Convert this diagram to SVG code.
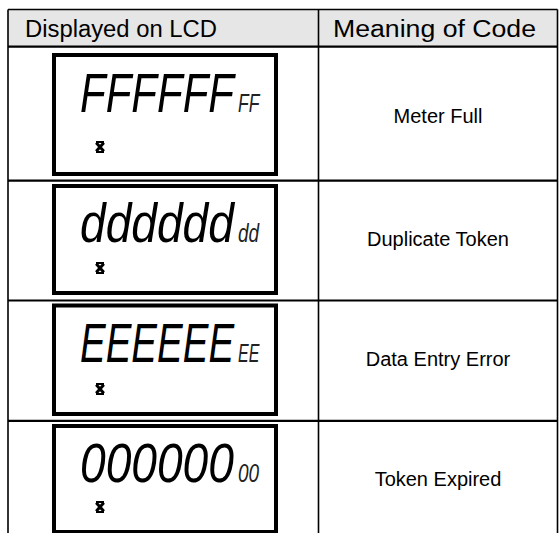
<svg xmlns="http://www.w3.org/2000/svg" width="559" height="533" viewBox="0 0 559 533">
<style>
.hdr{font-family:"Liberation Sans",Arial,sans-serif;font-size:23px;fill:#000}
.txt{font-family:"Liberation Sans",Arial,sans-serif;font-size:20px;fill:#000;text-anchor:middle}
.lcd{fill:none;stroke:#000;stroke-width:4}
.big{font-family:"Liberation Sans",Arial,sans-serif;font-style:italic;font-size:55px;fill:#000}
.sml{font-family:"Liberation Sans",Arial,sans-serif;font-style:italic;font-size:25px;fill:#222}
.grid{stroke:#000;fill:none}
</style>
<defs>
<g id="icon">
<path d="M-3.8,-4.2 L3.8,4.2 M3.8,-4.2 L-3.8,4.2" stroke="#000" stroke-width="3" fill="none"/>
<path d="M-4,-5 H4 M-4,5 H4" stroke="#000" stroke-width="1.8"/>
</g>
</defs>
<rect width="559" height="533" fill="#fff"/>
<g id="header">
<rect x="8" y="9.5" width="549.5" height="37" fill="#e6e6e6"/>
<text class="hdr" x="25" y="37" textLength="192" lengthAdjust="spacingAndGlyphs">Displayed on LCD</text>
<text class="hdr" x="333" y="37" textLength="203" lengthAdjust="spacingAndGlyphs">Meaning of Code</text>
</g>
<g id="grid">
<path class="grid" stroke-width="1.6" d="M8,9.5 H557.5 M8,9.5 V533 M557.5,9.5 V533 M318.5,9.5 V533"/>
<path class="grid" stroke-width="2.2" d="M8,46.7 H557.5 M8,180.7 H557.5 M8,300.5 H557.5 M8,420.8 H557.5"/>
</g>
<g id="row-meter-full">
<rect class="lcd" x="54" y="55" width="222" height="119"/>
<text class="big" transform="translate(80,112) scale(0.764,1)">FFFFFF</text>
<text class="sml" transform="translate(238,112) scale(0.7,1)">FF</text>
<use href="#icon" x="100" y="147"/>
<text class="txt" x="438" y="123">Meter Full</text>
</g>
<g id="row-duplicate-token">
<rect class="lcd" x="54" y="186" width="222" height="107"/>
<text class="big" transform="translate(80,242) scale(0.839,1)">dddddd</text>
<text class="sml" transform="translate(238,242) scale(0.76,1)">dd</text>
<use href="#icon" x="100" y="268"/>
<text class="txt" x="438" y="246">Duplicate Token</text>
</g>
<g id="row-data-entry-error">
<rect class="lcd" x="54" y="305.5" width="222" height="108.5"/>
<text class="big" transform="translate(80,362) scale(0.70,1)">EEEEEE</text>
<text class="sml" transform="translate(238,362) scale(0.64,1)">EE</text>
<use href="#icon" x="100" y="389"/>
<text class="txt" x="438" y="366">Data Entry Error</text>
</g>
<g id="row-token-expired">
<rect class="lcd" x="54" y="426" width="222" height="106"/>
<text class="big" transform="translate(80,482) scale(0.839,1)">000000</text>
<text class="sml" transform="translate(238,482) scale(0.76,1)">00</text>
<use href="#icon" x="100" y="507"/>
<text class="txt" x="438" y="486">Token Expired</text>
</g>
</svg>
